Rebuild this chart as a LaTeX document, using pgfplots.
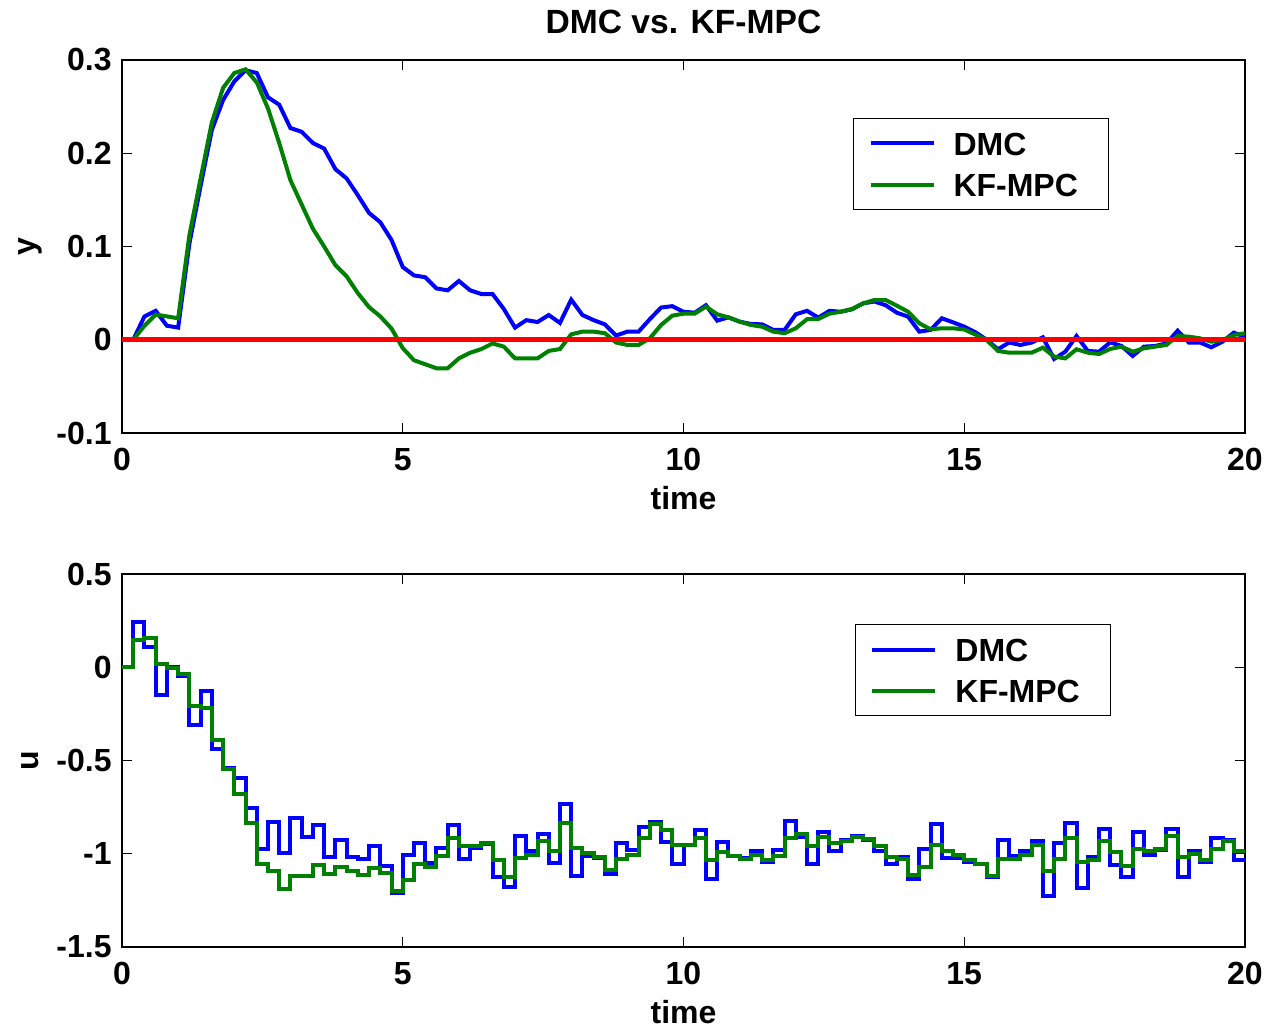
\documentclass[border=0pt]{standalone}
\usepackage{fontspec}
\setmainfont{Liberation Sans}
\usepackage{pgfplots}
\pgfplotsset{compat=1.18}
\newcommand{\tf}{\fontsize{16}{19}\selectfont\bfseries}
\newcommand{\ttlf}{\fontsize{16.8}{20}\selectfont\bfseries}
\definecolor{mblue}{RGB}{0,0,255}
\definecolor{mgreen}{RGB}{0,128,0}
\definecolor{mred}{RGB}{255,0,0}
\pgfplotsset{
  mstyle/.style={
    scale only axis, width=561.5pt, height=186.5pt,
    xmin=0, xmax=20, xtick={0,5,10,15,20}, xticklabels={0,5,10,15,20},
    tick align=inside, major tick length=5pt,
    axis line style={line width=1pt, black},
    tick style={line width=0.5pt, black},
    tick label style={font=\tf},
    xticklabel style={anchor=base, yshift=-19pt, inner sep=0pt},
    yticklabel style={anchor=east, inner sep=0pt, xshift=-5pt},
    label style={font=\tf},
    xlabel style={at={(axis description cs:0.5,-0.2064)}, anchor=base},
    ylabel style={at={(axis description cs:-0.082,0.5)}, anchor=center},
    legend cell align=left,
    legend image code/.code={\draw[#1, line width=2pt] (0pt,0pt) -- (31.5pt,0pt);},
    legend style={anchor=north east, draw=black, line width=0.6pt,
      inner xsep=7.5pt, inner ysep=6.5pt, row sep=8.85pt, column sep=9pt,
      font=\tf,
      nodes={inner sep=0pt, text height=11.8pt, text depth=0pt, text width=70pt, align=left}},
  }
}
\begin{document}
\begin{tikzpicture}
\useasboundingbox (-61pt,-299pt) rectangle (574.5pt,216.5pt);
\begin{axis}[mstyle,
  ymin=-0.1, ymax=0.3, ytick={-0.1,0,0.1,0.2,0.3}, yticklabels={-0.1,0,0.1,0.2,0.3},
  xlabel={time}, ylabel={y},
  title={DMC vs. KF-MPC}, title style={font=\ttlf, at={(axis description cs:0.5,1.0697)}, anchor=center},
  legend style={at={(0.879,0.8445)}},
]
\addplot[mblue, line width=2pt] coordinates {
(0.2,0) (0.4,0.025) (0.6,0.031) (0.8,0.015) (1.0,0.013) (1.2,0.103) (1.4,0.165) (1.6,0.225) (1.8,0.257) (2.0,0.277)
(2.2,0.289) (2.4,0.286) (2.6,0.26) (2.8,0.252) (3.0,0.227) (3.2,0.223) (3.4,0.211) (3.6,0.205) (3.8,0.183) (4.0,0.173)
(4.2,0.155) (4.4,0.136) (4.6,0.126) (4.8,0.107) (5.0,0.078) (5.2,0.069) (5.4,0.067) (5.6,0.055) (5.8,0.053) (6.0,0.063)
(6.2,0.053) (6.4,0.049) (6.6,0.049) (6.8,0.033) (7.0,0.013) (7.2,0.021) (7.4,0.019) (7.6,0.0265) (7.8,0.018) (8.0,0.043)
(8.2,0.0265) (8.4,0.021) (8.6,0.0165) (8.8,0.0045) (9.0,0.0087) (9.2,0.0087) (9.4,0.022) (9.6,0.0345) (9.8,0.036) (10.0,0.030)
(10.2,0.029) (10.4,0.037) (10.6,0.0205) (10.8,0.024) (11.0,0.0194) (11.2,0.0169) (11.4,0.0165) (11.6,0.0105) (11.8,0.0105) (12.0,0.0273)
(12.2,0.031) (12.4,0.0237) (12.6,0.031) (12.8,0.030) (13.0,0.0326) (13.2,0.039) (13.4,0.041) (13.6,0.037) (13.8,0.029) (14.0,0.0247)
(14.2,0.0087) (14.4,0.0105) (14.6,0.023) (14.8,0.0187) (15.0,0.014) (15.2,0.008) (15.4,0) (15.6,-0.0102) (15.8,-0.003) (16.0,-0.0056)
(16.2,-0.003) (16.4,0.0026) (16.6,-0.0206) (16.8,-0.0128) (17.0,0.004) (17.2,-0.012) (17.4,-0.0128) (17.6,-0.0028) (17.8,-0.0067) (18.0,-0.0174)
(18.2,-0.0074) (18.4,-0.0067) (18.6,-0.004) (18.8,0.0097) (19.0,-0.003) (19.2,-0.003) (19.4,-0.0081) (19.6,-0.0021) (19.8,0.0076) (20.0,0.0033)
};
\addlegendentry{DMC}
\addplot[mgreen, line width=2pt] coordinates {
(0.2,0) (0.4,0.015) (0.6,0.027) (0.8,0.025) (1.0,0.023) (1.2,0.112) (1.4,0.173) (1.6,0.233) (1.8,0.27) (2.0,0.286)
(2.2,0.29) (2.4,0.276) (2.6,0.248) (2.8,0.211) (3.0,0.171) (3.2,0.145) (3.4,0.119) (3.6,0.1) (3.8,0.08) (4.0,0.068)
(4.2,0.05) (4.4,0.035) (4.6,0.025) (4.8,0.012) (5.0,-0.009) (5.2,-0.022) (5.4,-0.0263) (5.6,-0.0306) (5.8,-0.0306) (6.0,-0.02)
(6.2,-0.014) (6.4,-0.01) (6.6,-0.004) (6.8,-0.0074) (7.0,-0.02) (7.2,-0.02) (7.4,-0.02) (7.6,-0.012) (7.8,-0.01) (8.0,0.0058)
(8.2,0.0087) (8.4,0.0087) (8.6,0.007) (8.8,-0.003) (9.0,-0.0056) (9.2,-0.0056) (9.4,0.0015) (9.6,0.0158) (9.8,0.0258) (10.0,0.028)
(10.2,0.028) (10.4,0.0355) (10.6,0.0273) (10.8,0.024) (11.0,0.0194) (11.2,0.0158) (11.4,0.014) (11.6,0.0087) (11.8,0.007) (12.0,0.0123)
(12.2,0.022) (12.4,0.0222) (12.6,0.028) (12.8,0.030) (13.0,0.033) (13.2,0.039) (13.4,0.0426) (13.6,0.0426) (13.8,0.0365) (14.0,0.030)
(14.2,0.0176) (14.4,0.0112) (14.6,0.0123) (14.8,0.0123) (15.0,0.011) (15.2,0.0055) (15.4,-0.0003) (15.6,-0.012) (15.8,-0.0139) (16.0,-0.0139)
(16.2,-0.0139) (16.4,-0.0085) (16.6,-0.0181) (16.8,-0.02) (17.0,-0.0102) (17.2,-0.0139) (17.4,-0.0153) (17.6,-0.0099) (17.8,-0.0074) (18.0,-0.0128)
(18.2,-0.0092) (18.4,-0.0074) (18.6,-0.0056) (18.8,0.004) (19.0,0.0033) (19.2,0.0015) (19.4,-0.0021) (19.6,-0.0003) (19.8,0.0051) (20.0,0.0069)
};
\addlegendentry{KF-MPC}
\addplot[mred, line width=2.5pt, forget plot] coordinates {(0,0) (20,0)};
\end{axis}
\begin{axis}[mstyle, at={(0pt,-257pt)}, anchor=south west,
  ymin=-1.5, ymax=0.5, ytick={-1.5,-1,-0.5,0,0.5}, yticklabels={-1.5,-1,-0.5,0,0.5},
  xlabel={time}, ylabel={u},
  legend style={at={(0.8807,0.8656)}},
  const plot,
]
\addplot[mblue, line width=2pt] coordinates {
(0.0,0) (0.2,0.24) (0.4,0.109) (0.6,-0.15) (0.8,0.0) (1.0,-0.048) (1.2,-0.31) (1.4,-0.127) (1.6,-0.44) (1.8,-0.54)
(2.0,-0.595) (2.2,-0.756) (2.4,-0.975) (2.6,-0.83) (2.8,-0.997) (3.0,-0.81) (3.2,-0.91) (3.4,-0.845) (3.6,-1.02) (3.8,-0.925)
(4.0,-1.015) (4.2,-1.03) (4.4,-0.957) (4.6,-1.068) (4.8,-1.21) (5.0,-1.005) (5.2,-0.943) (5.4,-1.05) (5.6,-0.97) (5.8,-0.845)
(6.0,-1.03) (6.2,-0.97) (6.4,-0.947) (6.6,-1.127) (6.8,-1.178) (7.0,-0.904) (7.2,-0.984) (7.4,-0.893) (7.6,-1.05) (7.8,-0.734)
(8.0,-1.118) (8.2,-1.014) (8.4,-1.023) (8.6,-1.107) (8.8,-0.943) (9.0,-0.979) (9.2,-0.854) (9.4,-0.831) (9.6,-0.938) (9.8,-1.055)
(10.0,-0.952) (10.2,-0.875) (10.4,-1.134) (10.6,-0.938) (10.8,-1.011) (11.0,-1.023) (11.2,-0.984) (11.4,-1.046) (11.6,-0.979) (11.8,-0.824)
(12.0,-0.911) (12.2,-1.055) (12.4,-0.886) (12.6,-0.987) (12.8,-0.925) (13.0,-0.904) (13.2,-0.925) (13.4,-0.987) (13.6,-1.053) (13.8,-1.018)
(14.0,-1.134) (14.2,-0.973) (14.4,-0.841) (14.6,-1.023) (14.8,-1.023) (15.0,-1.046) (15.2,-1.055) (15.4,-1.127) (15.6,-0.925) (15.8,-1.014)
(16.0,-0.984) (16.2,-0.929) (16.4,-1.228) (16.6,-0.943) (16.8,-0.833) (17.0,-1.184) (17.2,-1.018) (17.4,-0.868) (17.6,-1.059) (17.8,-1.127)
(18.0,-0.886) (18.2,-1.005) (18.4,-0.979) (18.6,-0.868) (18.8,-1.127) (19.0,-0.987) (19.2,-1.046) (19.4,-0.916) (19.6,-0.925) (19.8,-1.032)
(20.0,-1.032)
};
\addlegendentry{DMC}
\addplot[mgreen, line width=2pt] coordinates {
(0.0,0) (0.2,0.148) (0.4,0.159) (0.6,0.016) (0.8,-0.004) (1.0,-0.034) (1.2,-0.209) (1.4,-0.216) (1.6,-0.39) (1.8,-0.547)
(2.0,-0.68) (2.2,-0.833) (2.4,-1.055) (2.6,-1.095) (2.8,-1.187) (3.0,-1.118) (3.2,-1.118) (3.4,-1.059) (3.6,-1.109) (3.8,-1.073)
(4.0,-1.095) (4.2,-1.116) (4.4,-1.077) (4.6,-1.103) (4.8,-1.2) (5.0,-1.139) (5.2,-1.055) (5.4,-1.071) (5.6,-1.011) (5.8,-0.916)
(6.0,-0.957) (6.2,-0.957) (6.4,-0.943) (6.6,-1.032) (6.8,-1.127) (7.0,-1.023) (7.2,-1.005) (7.4,-0.934) (7.6,-0.984) (7.8,-0.833)
(8.0,-0.97) (8.2,-0.997) (8.4,-1.018) (8.6,-1.086) (8.8,-1.027) (9.0,-1.005) (9.2,-0.916) (9.4,-0.84) (9.6,-0.875) (9.8,-0.952)
(10.0,-0.952) (10.2,-0.913) (10.4,-1.036) (10.6,-0.993) (10.8,-1.014) (11.0,-1.027) (11.2,-1.005) (11.4,-1.032) (11.6,-1.011) (11.8,-0.916)
(12.0,-0.893) (12.2,-0.961) (12.4,-0.911) (12.6,-0.94) (12.8,-0.93) (13.0,-0.911) (13.2,-0.92) (13.4,-0.957) (13.6,-1.018) (13.8,-1.029)
(14.0,-1.112) (14.2,-1.071) (14.4,-0.952) (14.6,-0.984) (14.8,-1.005) (15.0,-1.032) (15.2,-1.055) (15.4,-1.121) (15.6,-1.027) (15.8,-1.027)
(16.0,-1.005) (16.2,-0.952) (16.4,-1.095) (16.6,-1.027) (16.8,-0.916) (17.0,-1.046) (17.2,-1.032) (17.4,-0.934) (17.6,-0.993) (17.8,-1.068)
(18.0,-0.975) (18.2,-0.987) (18.4,-0.975) (18.6,-0.904) (18.8,-1.018) (19.0,-1.002) (19.2,-1.036) (19.4,-0.975) (19.6,-0.934) (19.8,-0.987)
(20.0,-0.987)
};
\addlegendentry{KF-MPC}
\end{axis}
\end{tikzpicture}
\end{document}
